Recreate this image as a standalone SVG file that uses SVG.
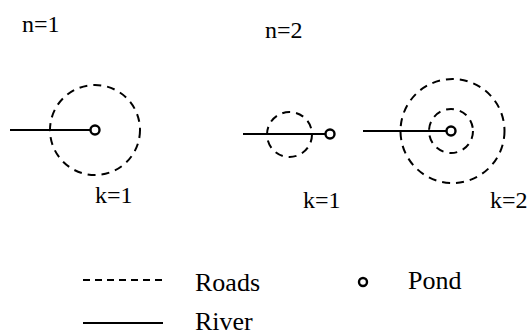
<svg xmlns="http://www.w3.org/2000/svg" width="531" height="336" viewBox="0 0 531 336">
<style>
.t{fill:#000;font-family:"Liberation Serif","Times New Roman",Times,"DejaVu Serif",serif}
.lbl{font-size:24px}
.leg{font-size:26px}
.road{fill:none;stroke:#000;stroke-width:2;stroke-dasharray:8 6}
.river{stroke:#000;stroke-width:2;fill:none}
.pond{fill:#fff;stroke:#000;stroke-width:2.4}
</style>
<rect width="531" height="336" fill="#fff"/>
<g id="labels">
<text class="t lbl" x="22" y="32" font-family="Liberation Serif">n=1</text>
<text class="t lbl" x="265" y="38" font-family="Liberation Serif">n=2</text>
<text class="t lbl" x="95" y="203" font-family="Liberation Serif">k=1</text>
<text class="t lbl" x="303" y="208" font-family="Liberation Serif">k=1</text>
<text class="t lbl" x="490" y="208" font-family="Liberation Serif">k=2</text>
</g>
<g id="connectors">
<line class="river" x1="10" y1="130" x2="91" y2="130"/>
<line class="river" x1="243" y1="134" x2="326" y2="134"/>
<line class="river" x1="363" y1="131" x2="447" y2="131"/>
</g>
<g id="diagram-n1-k1">
<circle class="road" cx="95" cy="130" r="45"/>
<circle class="pond" cx="95" cy="130" r="4.5"/>
</g>
<g id="diagram-n2-k1">
<circle class="road" cx="289.5" cy="134.5" r="22.5"/>
<circle class="pond" cx="330" cy="134" r="4.5"/>
</g>
<g id="diagram-n2-k2">
<circle class="road" cx="452.5" cy="131" r="52"/>
<circle class="road" cx="451" cy="131" r="22"/>
<circle class="pond" cx="451" cy="131" r="4.5"/>
</g>
<g id="legend">
<line class="road" x1="83" y1="280" x2="163" y2="280" style="stroke-dasharray:7 5"/>
<text class="t leg" x="195" y="291" font-family="Liberation Serif">Roads</text>
<circle class="pond" cx="363" cy="282" r="4"/>
<text class="t leg" x="408" y="289" font-family="Liberation Serif">Pond</text>
<line class="river" x1="83" y1="323" x2="163" y2="323"/>
<text class="t leg" x="195" y="330" font-family="Liberation Serif">River</text>
</g>
</svg>
